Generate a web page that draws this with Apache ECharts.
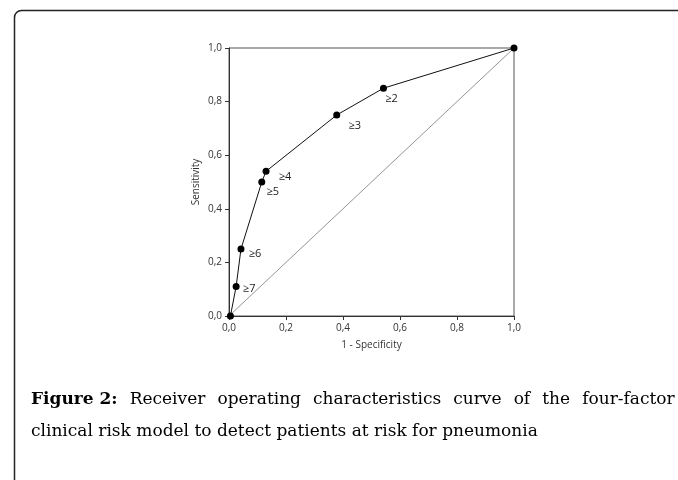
<!DOCTYPE html>
<html><head><meta charset="utf-8">
<script src="https://cdn.jsdelivr.net/npm/echarts@6/dist/echarts.min.js"></script>
<style>html,body{margin:0;padding:0;background:#fff}#c{width:678px;height:480px}</style>
</head><body><div id="c"></div>
<script>
const thresholds = ['', '≥7', '≥6', '≥5', '≥4', '≥3', '≥2', ''];
const fpr = [0.005, 0.025, 0.042, 0.115, 0.13, 0.378, 0.542, 1.0];
const tpr = [0.0, 0.11, 0.25, 0.50, 0.54, 0.75, 0.85, 1.0];
const diagX = [0, 1];
const diagY = [0, 1];
const captionBold = 'Figure 2:';
const captionLine1 = 'Receiver operating characteristics curve of the four-factor';
const captionLine2 = 'clinical risk model to detect patients at risk for pneumonia';

const labelOffsets = {'≥7':[13,2],'≥6':[14,5],'≥5':[11,10],'≥4':[19,6],'≥3':[18,11],'≥2':[8,11]};
const rocData = fpr.map((x,i)=>({
  value:[x,tpr[i]], name:thresholds[i],
  label:{show:!!thresholds[i], position:'inside', offset:labelOffsets[thresholds[i]]||[0,0]}
}));

const chart = echarts.init(document.getElementById('c'));
const fmt = v => v.toFixed(1).replace('.',',');
const axisCommon = {
  min:0, max:1, interval:0.2,
  axisLine:{show:true, onZero:false, lineStyle:{color:'#333', width:1}},
  axisTick:{show:true, inside:false, length:4, lineStyle:{color:'#333'}},
  splitLine:{show:false},
  axisLabel:{formatter:fmt, color:'#333', fontSize:10, fontFamily:'Open Sans'},
  nameTextStyle:{color:'#333', fontSize:10, fontFamily:'Open Sans'}
};
// justified first line: each word gets extra left padding
const line1Rich = captionLine1.split(' ').map(w=>'{w| '+w+'}').join('');
chart.setOption({
  animation:false,
  grid:{left:229, right:164, top:48, bottom:164, show:true, borderColor:'#555', borderWidth:1},
  xAxis:Object.assign({}, axisCommon, {type:'value', name:'1 - Specificity', nameLocation:'middle', nameGap:24,
    axisLabel:Object.assign({}, axisCommon.axisLabel, {margin:7})}),
  yAxis:Object.assign({}, axisCommon, {type:'value', name:'Sensitivity', nameLocation:'middle', nameGap:28,
    axisLabel:Object.assign({}, axisCommon.axisLabel, {margin:7})}),
  series:[
    {type:'line', data:diagX.map((x,i)=>[x,diagY[i]]), symbol:'none', lineStyle:{color:'#666', width:0.7}, z:1},
    {type:'line', data:rocData, symbol:'circle', symbolSize:7,
     itemStyle:{color:'#000'}, lineStyle:{color:'#111', width:1},
     label:{formatter:p=>p.name, color:'#222', fontSize:11, fontFamily:'Open Sans'}, z:3}
  ],
  graphic:[
    {type:'rect', shape:{x:14.5, y:10.5, width:700, height:500, r:7}, style:{fill:'none', stroke:'#222', lineWidth:1.5}, silent:true},
    {type:'text', left:31, top:391, style:{
      rich:{b:{fontWeight:'bold', fontFamily:'DejaVu Serif', fontSize:17, fill:'#000', lineHeight:32},
            w:{fontFamily:'DejaVu Serif', fontSize:17, fill:'#000', lineHeight:32, padding:[0,0,0,6.7]},
            n:{fontFamily:'DejaVu Serif', fontSize:17, fill:'#000', lineHeight:32}},
      text:'{b|'+captionBold+'}'+line1Rich+'\n{n|'+captionLine2+'}'
    }}
  ]
});
</script></body></html>
